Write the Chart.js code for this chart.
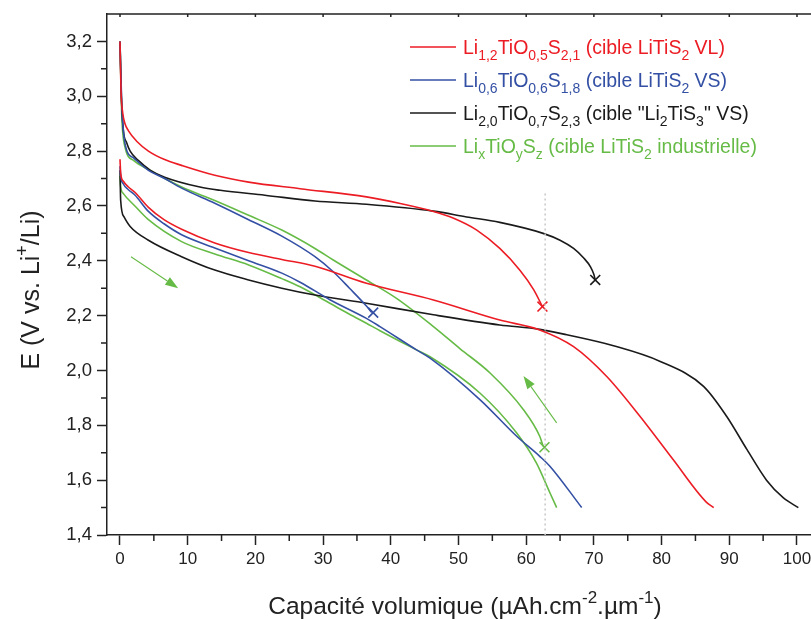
<!DOCTYPE html>
<html>
<head>
<meta charset="utf-8">
<script src="https://cdn.jsdelivr.net/npm/chart.js@4.4.1/dist/chart.umd.min.js"></script>
<style>
  html, body { margin: 0; padding: 0; background: #fff; }
</style>
</head>
<body>
<canvas id="chart" width="811" height="619"></canvas>
<script>
// Axis ticks
const xTicks = [0, 10, 20, 30, 40, 50, 60, 70, 80, 90, 100];
const xMinor = [5, 15, 25, 35, 45, 55, 65, 75, 85, 95];
const yTicks = [1.4, 1.6, 1.8, 2.0, 2.2, 2.4, 2.6, 2.8, 3.0, 3.2];
const yMinor = [1.5, 1.7, 1.9, 2.1, 2.3, 2.5, 2.7, 2.9, 3.1];

// Curves: [capacity, E]
const redUpper = [[0, 3.2], [0.15, 3.02], [0.4, 2.94], [0.74, 2.9], [1.23, 2.875], [2.5, 2.835], [4.2, 2.8], [6.5, 2.77], [9.1, 2.748], [14, 2.712], [19, 2.687], [26.6, 2.663], [36.4, 2.633], [41.4, 2.609], [46.3, 2.58], [49.2, 2.556], [52.7, 2.512], [56.1, 2.445], [59.1, 2.365], [61.1, 2.295], [62.4, 2.233]];
const redLower = [[0, 2.77], [0.1, 2.72], [0.5, 2.69], [1.2, 2.67], [2.2, 2.65], [4.2, 2.595], [6.5, 2.55], [9.1, 2.515], [14, 2.465], [19, 2.43], [23.9, 2.405], [28.8, 2.38], [36.4, 2.318], [46.3, 2.257], [56.1, 2.184], [62, 2.148], [67, 2.087], [71.9, 1.978], [76.8, 1.833], [81.7, 1.675], [86.6, 1.52], [87.7, 1.5]];
const blueUpper = [[0, 3.2], [0.3, 2.95], [0.8, 2.82], [2, 2.775], [4.2, 2.73], [6.6, 2.7], [9.1, 2.665], [14, 2.61], [19, 2.55], [23.9, 2.49], [28.8, 2.415], [31.5, 2.36], [33.9, 2.3], [36.4, 2.235], [37.2, 2.211]];
const blueLower = [[0, 2.745], [0.1, 2.71], [0.5, 2.68], [1.2, 2.66], [2.2, 2.64], [4.2, 2.58], [6.5, 2.535], [9.1, 2.495], [14, 2.447], [19, 2.4], [23.9, 2.355], [26.6, 2.322], [31, 2.258], [36.4, 2.19], [38.4, 2.16], [43.8, 2.075], [45.8, 2.045], [53.2, 1.893], [58.6, 1.76], [62, 1.687], [63.5, 1.651], [68.2, 1.5]];
const blackUpper = [[0, 3.2], [0.2, 3.0], [0.5, 2.875], [1.0, 2.83], [1.5, 2.8], [2.7, 2.766], [4.5, 2.73], [6.6, 2.705], [11.8, 2.669], [14.8, 2.657], [21.4, 2.639], [28.8, 2.618], [36.4, 2.606], [46.3, 2.581], [51.2, 2.56], [56.1, 2.54], [62.5, 2.5], [65, 2.475], [67, 2.445], [68.5, 2.41], [69.5, 2.378], [70, 2.35], [70.2, 2.33]];
const blackLower = [[0, 2.73], [0.1, 2.62], [0.6, 2.56], [1.5, 2.525], [4.2, 2.475], [9.1, 2.415], [14, 2.366], [19, 2.33], [23.9, 2.3], [28.8, 2.275], [36.4, 2.245], [46.3, 2.203], [56.1, 2.166], [62, 2.15], [66, 2.13], [72.9, 2.09], [79.8, 2.033], [86.2, 1.942], [89.6, 1.833], [92.6, 1.712], [95.5, 1.6], [98, 1.535], [100.2, 1.5]];
const greenUpper = [[0, 3.2], [0.25, 2.936], [0.74, 2.815], [2, 2.766], [4.4, 2.73], [9.1, 2.669], [14, 2.62], [19, 2.566], [23.9, 2.512], [28.8, 2.445], [31.5, 2.403], [36.4, 2.33], [40.9, 2.262], [46.3, 2.16], [50.2, 2.08], [54.7, 1.99], [59.6, 1.857], [62, 1.76], [62.5, 1.724]];
const greenLower = [[0, 2.71], [0.1, 2.67], [0.5, 2.645], [2.2, 2.6], [4.2, 2.55], [9.1, 2.47], [14, 2.425], [19, 2.385], [23.9, 2.335], [26.6, 2.305], [31, 2.245], [33.9, 2.205], [36.4, 2.172], [38.4, 2.145], [43.8, 2.075], [45.8, 2.05], [53.2, 1.917], [58.6, 1.772], [61.5, 1.663], [63.5, 1.554], [64.5, 1.5]];

// End-of-charge crosses, dotted marker, arrows
const crossPoints = [[62.4, 2.233], [37.4, 2.211], [70.2, 2.33], [62.7, 1.72]];
const dottedLine = [[62.8, 2.645], [62.8, 1.4]];
const arrows = [[[1.62, 2.415], [8.6, 2.3]], [[64.5, 1.809], [59.6, 1.98]]];

const colors = ["#ec1c24", "#3450a4", "#1a1a1a", "#66bb46"];
const legendLabels = [
  "Li_{1,2}TiO_{0,5}S_{2,1} (cible LiTiS_{2} VL)",
  "Li_{0,6}TiO_{0,6}S_{1,8} (cible LiTiS_{2} VS)",
  "Li_{2,0}TiO_{0,7}S_{2,3} (cible \"Li_{2}TiS_{3}\" VS)",
  "Li_{x}TiO_{y}S_{z} (cible LiTiS_{2} industrielle)"
];
const xTitle = "Capacité volumique (µAh.cm^{-2}.µm^{-1})";
const yTitle = "E (V vs. Li^{+}/Li)";

const FONT = "'Liberation Sans', Arial, sans-serif";

function toPts(arr) {
  return arr.map(p => ({ x: p[0], y: p[1] }));
}

function curve(arr, color) {
  return {
    data: toPts(arr),
    borderColor: color,
    borderWidth: 1.6,
    pointRadius: 0,
    cubicInterpolationMode: "monotone",
    fill: false
  };
}

// split "a_{b}c^{d}" into pieces
function parseRich(str) {
  const out = [];
  const re = /([_^])\{([^}]*)\}|([^_^]+)/g;
  let m;
  while ((m = re.exec(str)) !== null) {
    if (m[3]) out.push({ t: m[3], mode: "n" });
    else out.push({ t: m[2], mode: m[1] === "_" ? "sub" : "sup" });
  }
  return out;
}

function richWidth(ctx, parts, size) {
  let w = 0;
  parts.forEach(p => {
    ctx.font = (p.mode === "n" ? size : Math.round(size * 0.7)) + "px " + FONT;
    w += ctx.measureText(p.t).width;
  });
  return w;
}

function drawRich(ctx, str, x, y, size, color, align) {
  const parts = parseRich(str);
  let cx = x;
  if (align === "center") cx = x - richWidth(ctx, parts, size) / 2;
  ctx.fillStyle = color;
  ctx.textBaseline = "alphabetic";
  ctx.textAlign = "left";
  parts.forEach(p => {
    let dy = 0;
    if (p.mode === "n") {
      ctx.font = size + "px " + FONT;
    } else {
      ctx.font = Math.round(size * 0.7) + "px " + FONT;
      dy = p.mode === "sub" ? size * 0.34 : -size * 0.45;
    }
    ctx.fillText(p.t, cx, y + dy);
    cx += ctx.measureText(p.t).width;
  });
}

const extras = {
  id: "extras",
  afterDraw(chart) {
    const ctx = chart.ctx;
    const xs = chart.scales.x;
    const ys = chart.scales.y;
    const area = chart.chartArea;
    ctx.save();

    // minor ticks
    ctx.strokeStyle = "#222";
    ctx.lineWidth = 1.5;
    ctx.beginPath();
    xMinor.forEach(v => {
      const px = xs.getPixelForValue(v);
      ctx.moveTo(px, area.bottom);
      ctx.lineTo(px, area.bottom + 6);
    });
    yMinor.forEach(v => {
      const py = ys.getPixelForValue(v);
      ctx.moveTo(area.left, py);
      ctx.lineTo(area.left - 6, py);
    });
    // top axis line
    ctx.moveTo(area.left, area.top);
    ctx.lineTo(area.right, area.top);
    xTicks.forEach(v => {
      const px = xs.getPixelForValue(v);
      ctx.moveTo(px, area.top);
      ctx.lineTo(px, area.top + 3);
    });
    ctx.stroke();

    // arrows
    ctx.strokeStyle = colors[3];
    ctx.fillStyle = colors[3];
    ctx.lineWidth = 1.1;
    arrows.forEach(a => {
      const x1 = xs.getPixelForValue(a[0][0]), y1 = ys.getPixelForValue(a[0][1]);
      const x2 = xs.getPixelForValue(a[1][0]), y2 = ys.getPixelForValue(a[1][1]);
      const ang = Math.atan2(y2 - y1, x2 - x1);
      const hl = 13, hw = 4.5;
      const bx = x2 - hl * Math.cos(ang), by = y2 - hl * Math.sin(ang);
      ctx.beginPath();
      ctx.moveTo(x1, y1);
      ctx.lineTo(bx, by);
      ctx.stroke();
      ctx.beginPath();
      ctx.moveTo(x2, y2);
      ctx.lineTo(bx + hw * Math.sin(ang), by - hw * Math.cos(ang));
      ctx.lineTo(bx - hw * Math.sin(ang), by + hw * Math.cos(ang));
      ctx.closePath();
      ctx.fill();
    });

    // legend
    legendLabels.forEach((label, i) => {
      const y = 47 + i * 33;
      ctx.strokeStyle = colors[i];
      ctx.lineWidth = 1.6;
      ctx.beginPath();
      ctx.moveTo(410, y);
      ctx.lineTo(456, y);
      ctx.stroke();
      drawRich(ctx, label, 463, y + 6.5, 19.5, colors[i], "left");
    });

    // axis titles
    drawRich(ctx, xTitle, 465, 614, 24.5, "#222", "center");
    ctx.translate(39, 290);
    ctx.rotate(-Math.PI / 2);
    drawRich(ctx, yTitle, 0, 0, 25, "#222", "center");
    ctx.restore();
  }
};

new Chart(document.getElementById("chart"), {
  type: "line",
  data: {
    datasets: [
      {
        data: toPts(dottedLine),
        borderColor: "#c8c8c8",
        borderWidth: 1.5,
        borderDash: [2, 3],
        pointRadius: 0,
        tension: 0
      },
      curve(redUpper, colors[0]),
      curve(redLower, colors[0]),
      curve(blueUpper, colors[1]),
      curve(blueLower, colors[1]),
      curve(blackUpper, colors[2]),
      curve(blackLower, colors[2]),
      curve(greenUpper, colors[3]),
      curve(greenLower, colors[3]),
      {
        data: toPts(crossPoints),
        showLine: false,
        pointStyle: "crossRot",
        pointRadius: 7,
        pointBorderWidth: 1.6,
        pointBorderColor: colors,
        pointBackgroundColor: colors
      }
    ]
  },
  options: {
    responsive: false,
    animation: false,
    layout: { autoPadding: false, padding: { top: 14, right: 0, left: 0, bottom: 0 } },
    plugins: {
      legend: { display: false },
      tooltip: { enabled: false }
    },
    scales: {
      x: {
        type: "linear",
        min: -1.92,
        max: 102.07,
        afterBuildTicks: s => { s.ticks = xTicks.map(v => ({ value: v })); },
        afterFit: s => { s.height = 84; s.paddingLeft = 0; s.paddingRight = 0; },
        ticks: { color: "#222", font: { family: FONT, size: 17 }, padding: 4, maxRotation: 0, callback: v => String(v) },
        grid: { drawOnChartArea: false, drawTicks: true, tickLength: 10, tickColor: "#222", tickWidth: 1.5 },
        border: { display: true, color: "#222", width: 1.5 }
      },
      y: {
        type: "linear",
        min: 1.4,
        max: 3.3,
        afterBuildTicks: s => { s.ticks = yTicks.map(v => ({ value: v })); },
        afterFit: s => { s.width = 107; s.paddingTop = 0; s.paddingBottom = 0; },
        ticks: { color: "#222", font: { family: FONT, size: 18.5 }, padding: 5, callback: v => v.toFixed(1).replace(".", ",") },
        grid: { drawOnChartArea: false, drawTicks: true, tickLength: 10, tickColor: "#222", tickWidth: 1.5 },
        border: { display: true, color: "#222", width: 1.5 }
      }
    }
  },
  plugins: [extras]
});
</script>
</body>
</html>
